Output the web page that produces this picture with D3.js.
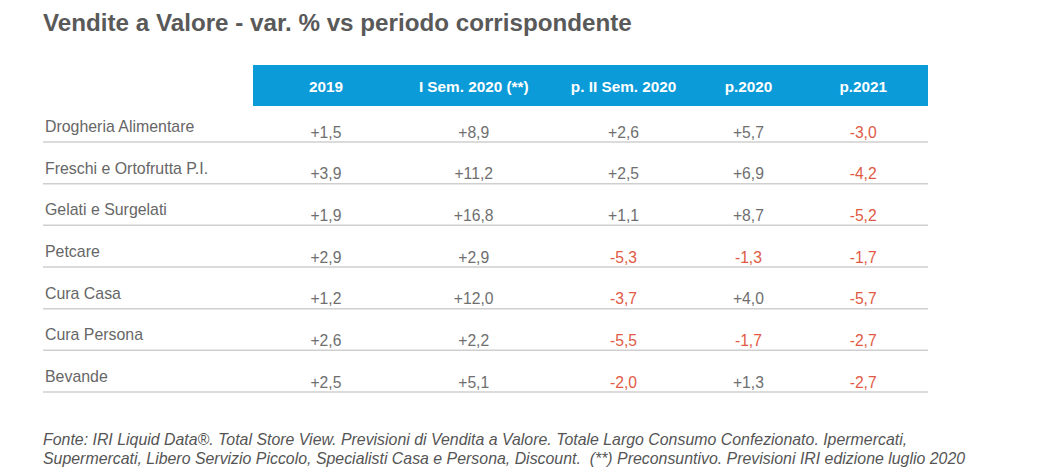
<!DOCTYPE html>
<html><head><meta charset="utf-8">
<script src="https://cdn.jsdelivr.net/npm/d3@7"></script>
<style>body{margin:0;background:#fff}svg{display:block}</style>
</head><body>
<script>
const title = "Vendite a Valore - var. % vs periodo corrispondente";
const columns = ["2019", "I Sem. 2020 (**)", "p. II Sem. 2020", "p.2020", "p.2021"];
const categories = ["Drogheria Alimentare","Freschi e Ortofrutta P.I.","Gelati e Surgelati","Petcare","Cura Casa","Cura Persona","Bevande"];
const v2019    = [1.5, 3.9, 1.9, 2.9, 1.2, 2.6, 2.5];
const vISem    = [8.9, 11.2, 16.8, 2.9, 12.0, 2.2, 5.1];
const vIISem   = [2.6, 2.5, 1.1, -5.3, -3.7, -5.5, -2.0];
const vP2020   = [5.7, 6.9, 8.7, -1.3, 4.0, -1.7, 1.3];
const vP2021   = [-3.0, -4.2, -5.2, -1.7, -5.7, -2.7, -2.7];
const footer = [
 "Fonte: IRI Liquid Data®. Total Store View. Previsioni di Vendita a Valore. Totale Largo Consumo Confezionato. Ipermercati,",
 "Supermercati, Libero Servizio Piccolo, Specialisti Casa e Persona, Discount.  (**) Preconsuntivo. Previsioni IRI edizione luglio 2020"
];

const series = [v2019, vISem, vIISem, vP2020, vP2021];
const W = 1042, H = 475;
const FONT = "Arial, 'Liberation Sans', sans-serif";
const svg = d3.select("body").append("svg").attr("width", W).attr("height", H)
  .style("font-family", FONT);

// layout
const bandL = 253, bandR = 928, headTop = 65, headBot = 106;
const colShare = [0.216, 0.222, 0.222, 0.148, 0.192]; // relative column widths
const cum = [0]; colShare.forEach(s => cum.push(cum[cum.length-1] + s));
const xFrac = d3.scaleLinear().domain([0, cum[cum.length-1]]).range([bandL, bandR]);
const xCol = d3.scaleOrdinal().domain(columns).range(columns.map((c,i)=>xFrac((cum[i]+cum[i+1])/2)));
const yRow = d3.scalePoint().domain(categories).range([142, 392]); // row bottom lines

svg.append("text").attr("x", 43).attr("y", 31).text(title)
  .attr("font-size", 24.2).attr("font-weight", "bold").attr("fill", "#595959");

svg.append("rect").attr("x", bandL).attr("y", headTop).attr("width", bandR-bandL).attr("height", headBot-headTop)
  .attr("fill", "#0b9bd8");

svg.selectAll("text.head").data(columns).join("text").attr("class","head")
  .attr("x", d => xCol(d)).attr("y", 92).attr("text-anchor","middle")
  .attr("font-size", 15.3).attr("font-weight","bold").attr("fill","#fff").text(d => d);

const rows = svg.selectAll("g.row").data(categories).join("g").attr("class","row");
rows.append("line").attr("x1", 43).attr("x2", bandR)
  .attr("y1", d => yRow(d)).attr("y2", d => yRow(d))
  .attr("stroke", "#cfcfcf").attr("stroke-width", 1.5);
rows.append("text").attr("x", 45).attr("y", d => yRow(d) - 10)
  .attr("font-size", 15.9).attr("fill", "#666").text(d => d);

const fmt = v => (v >= 0 ? "+" : "-") + Math.abs(v).toFixed(1).replace(".", ",");
columns.forEach((c, ci) => {
  svg.selectAll("text.v"+ci).data(series[ci]).join("text").attr("class","v"+ci)
    .attr("x", xCol(c)).attr("y", (d,i) => yRow(categories[i]) - 4.5)
    .attr("text-anchor","middle").attr("font-size", 15.7)
    .attr("fill", d => d < 0 ? "#e05a45" : "#6f6f6f").text(fmt);
});

svg.selectAll("text.foot").data(footer).join("text").attr("class","foot")
  .attr("x", 43).attr("y", (d,i) => 445 + i*19)
  .style("white-space", "pre")
  .attr("font-size", 15.9).attr("font-style","italic").attr("fill","#555").text(d => d);
</script>
</body></html>
